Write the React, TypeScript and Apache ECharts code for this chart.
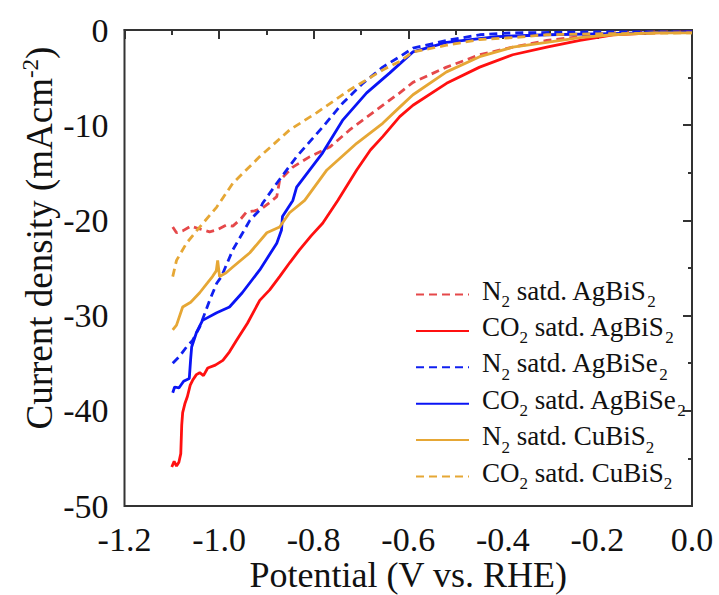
import React, { useEffect, useRef } from "react";
import * as echarts from "echarts";

const seriesNames = [
  "N2 satd. AgBiS2",
  "CO2 satd. AgBiS2",
  "N2 satd. AgBiSe2",
  "CO2 satd. AgBiSe2",
  "N2 satd. CuBiS2",
  "CO2 satd. CuBiS2",
];

const legendRich: Record<string, string> = {
  "N2 satd. AgBiS2": "{n|N}{s|2}{n| satd. AgBiS}{s|2}",
  "CO2 satd. AgBiS2": "{n|CO}{s|2}{n| satd. AgBiS}{s|2}",
  "N2 satd. AgBiSe2": "{n|N}{s|2}{n| satd. AgBiSe}{s|2}",
  "CO2 satd. AgBiSe2": "{n|CO}{s|2}{n| satd. AgBiSe}{s|2}",
  "N2 satd. CuBiS2": "{n|N}{s|2}{n| satd. CuBiS}{s|2}",
  "CO2 satd. CuBiS2": "{n|CO}{s|2}{n| satd. CuBiS}{s|2}",
};

const xTicks = [-1.2, -1.0, -0.8, -0.6, -0.4, -0.2, 0.0];
const yTicks = [-50, -40, -30, -20, -10, 0];

const n2AgBiS2: number[][] = [
  [-1.098, -20.7], [-1.09, -21.3], [-1.077, -21.1], [-1.06, -20.6], [-1.041, -20.9],
  [-1.02, -21.2], [-1.005, -21.0], [-0.985, -20.5], [-0.971, -20.6], [-0.955, -19.9],
  [-0.942, -19.1], [-0.925, -19.0], [-0.908, -18.7], [-0.89, -18.0], [-0.878, -17.5],
  [-0.872, -15.8], [-0.844, -14.4], [-0.808, -13.3], [-0.766, -12.3], [-0.724, -10.5],
  [-0.667, -8.4], [-0.618, -6.6], [-0.59, -5.5], [-0.519, -3.9], [-0.449, -2.6],
  [-0.379, -1.8], [-0.307, -1.1], [-0.237, -0.7], [-0.167, -0.3], [-0.08, -0.2], [0, -0.2],
];

const co2AgBiS2: number[][] = [
  [-1.1, -45.9], [-1.095, -45.3], [-1.09, -45.8], [-1.085, -45.4], [-1.081, -44.5],
  [-1.079, -41.5], [-1.077, -40.2], [-1.072, -39.2], [-1.067, -38.5], [-1.061, -37.3],
  [-1.056, -36.8], [-1.048, -36.2], [-1.041, -36.0], [-1.033, -36.3], [-1.024, -35.5],
  [-1.008, -35.2], [-0.992, -34.7], [-0.978, -33.8], [-0.963, -32.6], [-0.94, -30.8],
  [-0.914, -28.4], [-0.893, -27.3], [-0.872, -25.9], [-0.85, -24.4], [-0.83, -23.1],
  [-0.805, -21.6], [-0.781, -20.3], [-0.749, -17.9], [-0.709, -14.7], [-0.68, -12.6],
  [-0.654, -11.2], [-0.618, -9.1], [-0.59, -7.9], [-0.519, -5.6], [-0.449, -3.9],
  [-0.379, -2.6], [-0.307, -1.8], [-0.237, -1.1], [-0.167, -0.5], [-0.08, -0.3], [0, -0.2],
];

const n2AgBiSe2: number[][] = [
  [-1.098, -35.0], [-1.084, -34.3], [-1.069, -33.3], [-1.056, -32.6], [-1.041, -31.2],
  [-1.02, -28.4], [-1.005, -26.6], [-0.995, -25.9], [-0.971, -23.1], [-0.95, -21.3],
  [-0.935, -20.0], [-0.914, -18.9], [-0.908, -18.2], [-0.878, -16.1], [-0.836, -13.3],
  [-0.781, -10.2], [-0.739, -7.7], [-0.696, -5.6], [-0.654, -3.9], [-0.618, -2.8],
  [-0.59, -1.9], [-0.519, -1.1], [-0.449, -0.5], [-0.379, -0.3], [-0.2, -0.2], [0, -0.2],
];

const co2AgBiSe2: number[][] = [
  [-1.098, -38.1], [-1.094, -37.5], [-1.085, -37.6], [-1.075, -36.9], [-1.063, -36.6],
  [-1.06, -34.5], [-1.058, -33.3], [-1.048, -31.8], [-1.035, -30.5], [-1.005, -29.7],
  [-0.978, -29.1], [-0.951, -27.6], [-0.914, -25.2], [-0.878, -22.4], [-0.868, -21.0],
  [-0.866, -19.6], [-0.844, -17.9], [-0.836, -16.5], [-0.781, -12.9], [-0.739, -9.5],
  [-0.688, -6.6], [-0.639, -4.5], [-0.59, -2.3], [-0.519, -1.3], [-0.413, -0.7],
  [-0.307, -0.5], [-0.2, -0.4], [-0.1, -0.3], [0, -0.2],
];

const n2CuBiS2: number[][] = [
  [-1.098, -31.5], [-1.09, -31.0], [-1.077, -29.1], [-1.06, -28.6], [-1.041, -27.6],
  [-1.025, -26.6], [-1.014, -25.9], [-1.006, -25.3], [-1.003, -24.2], [-0.999, -25.9],
  [-0.985, -25.5], [-0.971, -24.9], [-0.935, -23.4], [-0.899, -21.3], [-0.872, -20.7],
  [-0.851, -19.2], [-0.819, -17.9], [-0.772, -14.7], [-0.709, -11.9], [-0.654, -9.8],
  [-0.618, -8.1], [-0.59, -6.8], [-0.519, -4.4], [-0.449, -2.8], [-0.379, -1.8],
  [-0.307, -1.3], [-0.237, -0.8], [-0.167, -0.5], [-0.08, -0.3], [0, -0.3],
];

const co2CuBiS2: number[][] = [
  [-1.098, -25.9], [-1.09, -24.2], [-1.069, -22.4], [-1.041, -20.7], [-1.005, -18.6],
  [-0.971, -16.1], [-0.914, -13.3], [-0.851, -10.5], [-0.794, -8.7], [-0.724, -6.3],
  [-0.654, -4.2], [-0.618, -3.3], [-0.59, -2.3], [-0.519, -1.6], [-0.449, -1.0],
  [-0.379, -0.8], [-0.307, -0.5], [-0.2, -0.4], [0, -0.3],
];

const seriesData = [n2AgBiS2, co2AgBiS2, n2AgBiSe2, co2AgBiSe2, n2CuBiS2, co2CuBiS2];
const seriesColors = ["#e5484a", "#ff1010", "#1020f0", "#0a14f5", "#e6a735", "#e6a735"];
const seriesDashed = [true, false, true, false, false, true];

const FONT = "Liberation Serif";

export default function App() {
  const ref = useRef<HTMLDivElement>(null);
  useEffect(() => {
    if (!ref.current) return;
    document.body.style.margin = "0";
    const chart = echarts.init(ref.current, undefined, { renderer: "svg" });
    const option: any = {
      animation: false,
      backgroundColor: "#ffffff",
      textStyle: { fontFamily: FONT },
      grid: {
        left: 124.5,
        right: 27,
        top: 30,
        bottom: 89,
        outerBoundsMode: "none",
        containLabel: false,
        show: true,
        borderColor: "#333",
        borderWidth: 2,
        backgroundColor: "transparent",
      },
      xAxis: {
        type: "value",
        min: xTicks[0],
        max: xTicks[xTicks.length - 1],
        interval: 0.2,
        name: "Potential (V vs. RHE)",
        nameLocation: "middle",
        nameGap: 51,
        nameMoveOverlap: false,
        nameTextStyle: { fontFamily: FONT, fontSize: 36, lineHeight: 36, color: "#111" },
        axisLine: { show: true, lineStyle: { color: "#333", width: 2 } },
        axisTick: { show: true, inside: false, length: 9, lineStyle: { color: "#333", width: 2 } },
        minorTick: { show: true, splitNumber: 2, length: 5, lineStyle: { color: "#333", width: 2 } },
        splitLine: { show: false },
        axisLabel: {
          fontFamily: FONT,
          fontSize: 34,
          color: "#111",
          margin: 16,
          formatter: (v: number) => v.toFixed(1),
        },
      },
      yAxis: {
        type: "value",
        min: yTicks[0],
        max: yTicks[yTicks.length - 1],
        interval: 10,
        axisLine: { show: true, lineStyle: { color: "#333", width: 2 } },
        axisTick: { show: true, inside: false, length: 9, lineStyle: { color: "#333", width: 2 } },
        minorTick: { show: true, splitNumber: 2, length: 4, lineStyle: { color: "#333", width: 2 } },
        splitLine: { show: false },
        axisLabel: {
          fontFamily: FONT,
          fontSize: 34,
          color: "#111",
          margin: 16,
          formatter: (v: number) => String(Math.round(v)),
        },
      },
      legend: {
        orient: "vertical",
        left: 415,
        top: 277,
        padding: 0,
        itemWidth: 53,
        itemHeight: 14,
        itemGap: 1.4,
        data: seriesNames,
        itemStyle: { opacity: 0 },
        formatter: (name: string) => legendRich[name],
        textStyle: {
          color: "#111",
          fontFamily: FONT,
          padding: [0, 0, 0, 8],
          rich: {
            n: { fontFamily: FONT, fontSize: 27, color: "#111", lineHeight: 28, padding: [0, 0, 8, 0] },
            s: { fontFamily: FONT, fontSize: 17, color: "#111", lineHeight: 18, padding: [14, 0, 0, 0] },
          },
        },
      },
      graphic: [
        {
          type: "text",
          x: 39,
          y: 238,
          rotation: Math.PI / 2,
          style: {
            text: "{n|Current density (mAcm}{p|-2}{n|)}",
            align: "center",
            verticalAlign: "middle",
            fill: "#111",
            fontFamily: FONT,
            rich: {
              n: { fontFamily: FONT, fontSize: 37, fill: "#111", lineHeight: 40 },
              p: { fontFamily: FONT, fontSize: 23, fill: "#111", lineHeight: 23, padding: [0, 0, 18, 0] },
            },
          },
        },
      ],
      series: seriesNames.map((name, i) => ({
        name,
        type: "line",
        data: seriesData[i],
        showSymbol: false,
        symbol: "none",
        smooth: false,
        lineStyle: {
          color: seriesColors[i],
          width: 2.8,
          type: seriesDashed[i] ? [8, 5] : "solid",
        },
        itemStyle: { color: seriesColors[i] },
      })),
    };
    chart.setOption(option);
    return () => chart.dispose();
  }, []);
  return <div ref={ref} style={{ width: 719, height: 595 }} />;
}
